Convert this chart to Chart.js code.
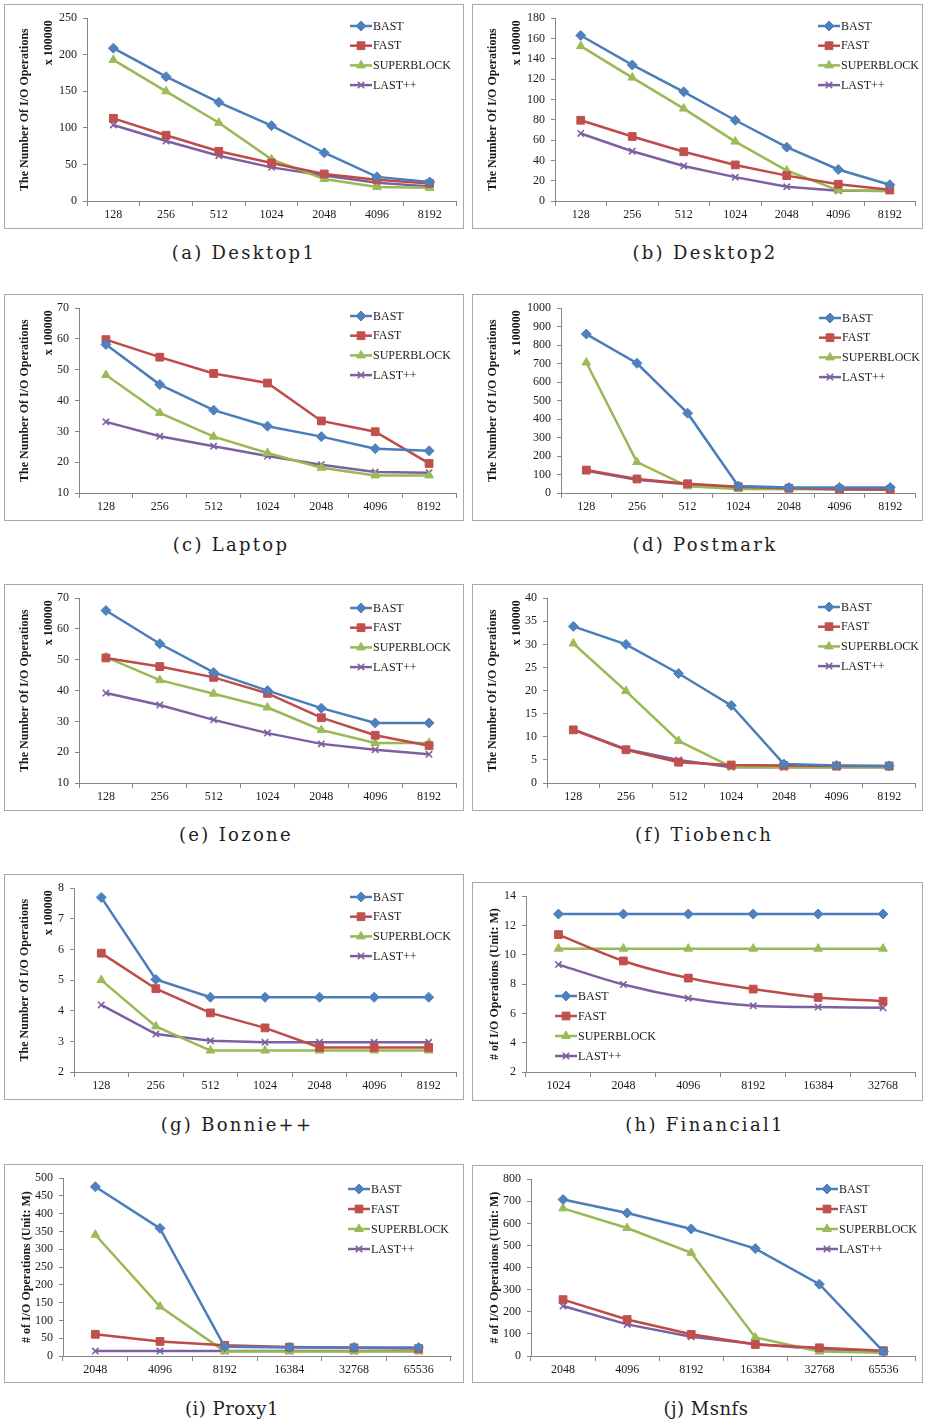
<!DOCTYPE html>
<html>
<head>
<meta charset="utf-8">
<script src="https://cdn.jsdelivr.net/npm/chart.js@4.4.0/dist/chart.umd.min.js"></script>
<style>
  html, body { margin: 0; padding: 0; background: #fff; }
  #page { position: relative; width: 926px; height: 1419px; overflow: hidden; background: #fff; }
  .panel { position: absolute; border: 1px solid #a9a9a9; box-sizing: border-box; background: #fff; }
  .panel canvas { display: block; }
  .cap { position: absolute; transform: translate(-50%, -50%); white-space: nowrap;
         font-family: "DejaVu Serif", serif; font-size: 18px; letter-spacing: 2.3px; color: #1e1e1e; }
  .cap.narrow { letter-spacing: 0.5px; }
</style>
</head>
<body>
<div id="page"></div>
<script>
// ---- categories (block sizes) ----
const seriesNames = ['BAST', 'FAST', 'SUPERBLOCK', 'LAST++'];
const sizes128to8192 = ['128', '256', '512', '1024', '2048', '4096', '8192'];
const sizes1024to32768 = ['1024', '2048', '4096', '8192', '16384', '32768'];
const sizes2048to65536 = ['2048', '4096', '8192', '16384', '32768', '65536'];

// ---- Desktop1 (x 100000 I/O operations) ----
const desktop1Bast  = [209, 170, 135, 103, 66, 33, 26];
const desktop1Fast  = [113, 90, 68, 52, 37, 29, 24];
const desktop1Super = [193, 150, 107, 57, 30, 19, 18];
const desktop1Last  = [104, 82, 62, 46, 35, 25, 20];

// ---- Desktop2 ----
const desktop2Bast  = [163, 134, 107.5, 79.5, 53, 31, 16];
const desktop2Fast  = [79.5, 63.5, 48.5, 35.5, 25, 16.5, 11];
const desktop2Super = [152.5, 121.5, 91, 58.5, 30, 10.5, 9.5];
const desktop2Last  = [66.5, 49, 34.5, 23.5, 14, 10, 10];

// ---- Laptop ----
const laptopBast  = [58.2, 45.2, 36.9, 31.7, 28.3, 24.4, 23.7];
const laptopFast  = [59.8, 54.1, 48.8, 45.7, 33.4, 29.9, 19.6];
const laptopSuper = [48.3, 36, 28.3, 23, 18.2, 15.7, 15.7];
const laptopLast  = [33.1, 28.4, 25.2, 22, 19.2, 16.8, 16.6];

// ---- Postmark ----
const postmarkBast  = [860, 702, 432, 38, 30, 30, 30];
const postmarkFast  = [124, 76, 50, 34, 26, 21, 19];
const postmarkSuper = [706, 167, 36, 21, 20, 21, 22];
const postmarkLast  = [120, 72, 47, 31, 24, 19, 17];

// ---- Iozone ----
const iozoneBast  = [66, 55.2, 45.9, 40, 34.3, 29.5, 29.5];
const iozoneFast  = [50.6, 47.8, 44.3, 39.1, 31.2, 25.5, 22.1];
const iozoneSuper = [50.9, 43.4, 39, 34.5, 27.2, 23, 23];
const iozoneLast  = [39.2, 35.3, 30.5, 26.2, 22.7, 20.8, 19.3];

// ---- Tiobench ----
const tiobenchBast  = [33.9, 30, 23.7, 16.8, 4.1, 3.8, 3.7];
const tiobenchFast  = [11.5, 7.2, 4.5, 3.9, 3.8, 3.7, 3.7];
const tiobenchSuper = [30.2, 19.9, 9.1, 3.5, 3.4, 3.4, 3.4];
const tiobenchLast  = [11.6, 7.3, 5, 3.4, 3.4, 3.4, 3.4];

// ---- Bonnie++ ----
const bonnieBast  = [7.7, 5.02, 4.44, 4.44, 4.44, 4.44, 4.44];
const bonnieFast  = [5.88, 4.72, 3.93, 3.44, 2.8, 2.8, 2.8];
const bonnieSuper = [5, 3.49, 2.7, 2.7, 2.7, 2.7, 2.7];
const bonnieLast  = [4.19, 3.24, 3.02, 2.97, 2.97, 2.97, 2.97];

// ---- Financial1 (millions of I/O operations) ----
const financialBast  = [12.78, 12.78, 12.78, 12.78, 12.78, 12.78];
const financialFast  = [11.38, 9.58, 8.41, 7.66, 7.09, 6.83];
const financialSuper = [10.42, 10.42, 10.42, 10.42, 10.42, 10.42];
const financialLast  = [9.33, 7.97, 7.04, 6.52, 6.43, 6.38];

// ---- Proxy1 ----
const proxyBast  = [476, 359, 26, 24, 24, 24];
const proxyFast  = [61, 41, 30, 25, 23, 21];
const proxySuper = [341, 139, 13, 13, 13, 13];
const proxyLast  = [14, 14, 14, 14, 14, 14];

// ---- Msnfs ----
const msnfsBast  = [708, 647, 575, 486, 325, 20];
const msnfsFast  = [255, 165, 98, 52, 37, 24];
const msnfsSuper = [668, 579, 467, 84, 20, 15];
const msnfsLast  = [226, 143, 87, 54, 30, 20];

// ---- axis titles ----
const titleScaled = ['The Number Of I/O Operations', 'x 100000'];
const titleMillions = ['# of I/O Operations (Unit: M)'];

// ---- series styling ----
const seriesStyle = [
  { color: '#4A7EBB', fill: '#4F81BD', pointStyle: 'rectRot',  radius: 5 },
  { color: '#BE4B48', fill: '#C0504D', pointStyle: 'rect',     radius: 5.5 },
  { color: '#98B954', fill: '#9BBB59', pointStyle: 'triangle', radius: 5 },
  { color: '#7D60A0', fill: '#8064A2', pointStyle: 'crossRot', radius: 4.5 }
];

// ---- panels: data + page layout (box / plot area in page pixels) ----
const panels = [
  { caption: '(a) Desktop1', cats: sizes128to8192, series: [desktop1Bast, desktop1Fast, desktop1Super, desktop1Last],
    y: [0, 250, 50], title: titleScaled, box: [4, 4, 463, 228], plot: [87, 16, 456, 201],
    legend: [350, 26, 19.7], titleX: [25, 49], cap: [244, 252] },
  { caption: '(b) Desktop2', cats: sizes128to8192, series: [desktop2Bast, desktop2Fast, desktop2Super, desktop2Last],
    y: [0, 180, 20], title: titleScaled, box: [472, 4, 922, 228], plot: [555, 16, 920, 201],
    legend: [818, 26, 19.7], titleX: [493, 517], cap: [705, 252] },
  { caption: '(c) Laptop', cats: sizes128to8192, series: [laptopBast, laptopFast, laptopSuper, laptopLast],
    y: [10, 70, 10], title: titleScaled, box: [4, 294, 463, 520], plot: [79, 306, 456, 493],
    legend: [350, 316, 19.7], titleX: [25, 49], cap: [231, 544] },
  { caption: '(d) Postmark', cats: sizes128to8192, series: [postmarkBast, postmarkFast, postmarkSuper, postmarkLast],
    y: [0, 1000, 100], title: titleScaled, box: [472, 294, 922, 520], plot: [561, 307, 917, 493],
    legend: [819, 318, 19.7], titleX: [493, 517], cap: [705, 544] },
  { caption: '(e) Iozone', cats: sizes128to8192, series: [iozoneBast, iozoneFast, iozoneSuper, iozoneLast],
    y: [10, 70, 10], title: titleScaled, box: [4, 584, 463, 810], plot: [79, 598, 456, 783],
    legend: [350, 608, 19.7], titleX: [25, 49], cap: [236, 834] },
  { caption: '(f) Tiobench', cats: sizes128to8192, series: [tiobenchBast, tiobenchFast, tiobenchSuper, tiobenchLast],
    y: [0, 40, 5], title: titleScaled, box: [472, 584, 922, 810], plot: [547, 597, 920, 783],
    legend: [818, 607, 19.7], titleX: [493, 517], cap: [704, 834] },
  { caption: '(g) Bonnie++', cats: sizes128to8192, series: [bonnieBast, bonnieFast, bonnieSuper, bonnieLast],
    y: [2, 8, 1], title: titleScaled, box: [4, 874, 463, 1099], plot: [74, 886, 456, 1072],
    legend: [350, 897, 19.7], titleX: [25, 49], cap: [237, 1124] },
  { caption: '(h) Financial1', cats: sizes1024to32768, series: [financialBast, financialFast, financialSuper, financialLast],
    y: [2, 14, 2], title: titleMillions, box: [472, 882, 922, 1100], plot: [526, 894, 920, 1072],
    legend: [555, 996, 20], titleX: [495], cap: [705, 1124], smooth: true },
  { caption: '(i) Proxy1', cats: sizes2048to65536, series: [proxyBast, proxyFast, proxySuper, proxyLast],
    y: [0, 500, 50], title: titleMillions, box: [4, 1164, 463, 1382], plot: [63, 1178, 451, 1356],
    legend: [348, 1189, 20], titleX: [27], cap: [232, 1408], narrowCap: true },
  { caption: '(j) Msnfs', cats: sizes2048to65536, series: [msnfsBast, msnfsFast, msnfsSuper, msnfsLast],
    y: [0, 800, 100], title: titleMillions, box: [472, 1165, 922, 1382], plot: [531, 1178, 919, 1356],
    legend: [816, 1189, 20], titleX: [495], cap: [706, 1408], narrowCap: true }
];

Chart.defaults.font.family = '"Liberation Serif", "Times New Roman", serif';
Chart.defaults.font.size = 12;
Chart.defaults.color = '#1a1a1a';

function markerPath(ctx, style, r, x, y) {
  if (Chart.helpers && Chart.helpers.drawPoint) {
    Chart.helpers.drawPoint(ctx, { pointStyle: style, radius: r, borderWidth: ctx.lineWidth, rotation: 0 }, x, y);
    return;
  }
  ctx.beginPath();
  ctx.arc(x, y, r, 0, Math.PI * 2);
  ctx.fill();
}

// legend drawn inside the plot: line sample with marker, then the label
const innerLegend = {
  id: 'innerLegend',
  afterDatasetsDraw(chart, args, o) {
    const ctx = chart.ctx;
    chart.data.datasets.forEach((ds, i) => {
      const y = o.y + i * o.gap;
      ctx.save();
      ctx.strokeStyle = ds.borderColor;
      ctx.lineWidth = ds.borderWidth;
      ctx.beginPath();
      ctx.moveTo(o.x, y);
      ctx.lineTo(o.x + o.len, y);
      ctx.stroke();
      ctx.fillStyle = ds.pointBackgroundColor;
      ctx.strokeStyle = ds.pointBorderColor;
      ctx.lineWidth = ds.pointBorderWidth;
      markerPath(ctx, ds.pointStyle, ds.pointRadius, o.x + o.len / 2, y);
      ctx.fillStyle = '#1a1a1a';
      ctx.font = '12px "Liberation Serif", serif';
      ctx.textAlign = 'left';
      ctx.textBaseline = 'middle';
      ctx.fillText(ds.label, o.x + o.len + 1, y + 0.5);
      ctx.restore();
    });
  }
};

// rotated y-axis title; an optional second line sits at the top of the axis
const sideTitle = {
  id: 'sideTitle',
  afterDraw(chart, args, o) {
    const { ctx, chartArea } = chart;
    ctx.save();
    ctx.fillStyle = '#1a1a1a';
    ctx.font = 'bold ' + o.size + 'px "Liberation Serif", serif';
    ctx.textBaseline = 'middle';
    ctx.translate(o.x[0], (chartArea.top + chartArea.bottom) / 2);
    ctx.rotate(-Math.PI / 2);
    ctx.textAlign = 'center';
    ctx.fillText(o.text[0], 0, 0);
    ctx.restore();
    if (o.text[1]) {
      ctx.save();
      ctx.fillStyle = '#1a1a1a';
      ctx.font = 'bold ' + o.size + 'px "Liberation Serif", serif';
      ctx.textBaseline = 'middle';
      ctx.translate(o.x[1], chartArea.top + 2);
      ctx.rotate(-Math.PI / 2);
      ctx.textAlign = 'right';
      ctx.fillText(o.text[1], 0, 0);
      ctx.restore();
    }
  }
};

const page = document.getElementById('page');

panels.forEach(p => {
  const [bl, bt, br, bb] = p.box;
  const W = br - bl + 1, H = bb - bt + 1;
  const ox = bl + 1, oy = bt + 1;           // canvas origin in page pixels
  const cw = W - 2, ch = H - 2;
  const [pl, pt, pr, pb] = p.plot;

  const div = document.createElement('div');
  div.className = 'panel';
  Object.assign(div.style, { left: bl + 'px', top: bt + 'px', width: W + 'px', height: H + 'px' });
  const cv = document.createElement('canvas');
  cv.width = cw; cv.height = ch;
  cv.style.width = cw + 'px'; cv.style.height = ch + 'px';
  div.appendChild(cv);
  page.appendChild(div);

  const cap = document.createElement('div');
  cap.className = p.narrowCap ? 'cap narrow' : 'cap';
  cap.textContent = p.caption;
  cap.style.left = p.cap[0] + 'px';
  cap.style.top = p.cap[1] + 'px';
  page.appendChild(cap);

  const datasets = p.series.map((vals, i) => {
    const s = seriesStyle[i];
    return {
      label: seriesNames[i],
      data: vals,
      borderColor: s.color,
      backgroundColor: s.fill,
      borderWidth: 2.5,
      pointStyle: s.pointStyle,
      pointRadius: s.radius,
      pointHoverRadius: s.radius,
      pointBackgroundColor: s.fill,
      pointBorderColor: s.pointStyle === 'crossRot' ? s.color : s.fill,
      pointBorderWidth: s.pointStyle === 'crossRot' ? 1.6 : 1,
      tension: p.smooth ? 0.35 : 0,
      fill: false,
      clip: false
    };
  });

  new Chart(cv, {
    type: 'line',
    data: { labels: p.cats, datasets },
    options: {
      responsive: false,
      animation: false,
      devicePixelRatio: 1,
      layout: { padding: { left: 0, top: pt - oy, right: cw - (pr - ox), bottom: 0 } },
      plugins: {
        legend: { display: false },
        tooltip: { enabled: false },
        innerLegend: { x: p.legend[0] - ox, y: p.legend[1] - oy, gap: p.legend[2], len: 22 },
        sideTitle: { text: p.title, x: p.titleX.map(v => v - ox), size: 12 }
      },
      scales: {
        x: {
          type: 'category',
          offset: true,
          grid: { offset: true, drawOnChartArea: false, drawTicks: true, tickLength: 5, color: '#868686', lineWidth: 1 },
          border: { display: true, color: '#868686', width: 1 },
          ticks: { padding: 2, maxRotation: 0, autoSkip: false, color: '#1a1a1a', font: { size: 12 } },
          afterFit(scale) { scale.height = ch - (pb - oy); }
        },
        y: {
          min: p.y[0], max: p.y[1],
          grid: { drawOnChartArea: false, drawTicks: true, tickLength: 4, color: '#868686', lineWidth: 1 },
          border: { display: true, color: '#868686', width: 1 },
          ticks: { stepSize: p.y[2], padding: 6, color: '#1a1a1a', font: { size: 12 },
                   callback: v => String(v) },
          afterFit(scale) { scale.width = pl - ox; }
        }
      }
    },
    plugins: [innerLegend, sideTitle]
  });
});
</script>
</body>
</html>
